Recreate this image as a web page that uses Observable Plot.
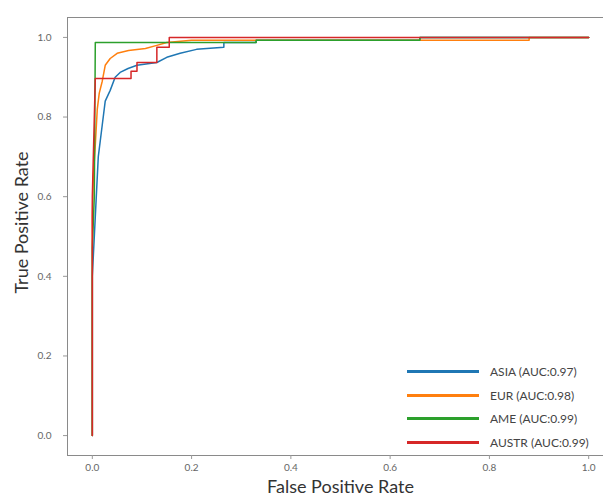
<!DOCTYPE html>
<html><head><meta charset="utf-8">
<script src="https://cdn.jsdelivr.net/npm/d3@7"></script>
<script src="https://cdn.jsdelivr.net/npm/@observablehq/plot@0.6"></script>
<style>
html,body{margin:0;padding:0;background:#fff;overflow:hidden;}
#wrap{position:relative;width:603px;height:497px;}
#legend{position:absolute;left:407px;top:360px;font-family:Lato,"Open Sans",sans-serif;font-size:12px;color:#444;}
.row{display:flex;align-items:center;height:23.5px;}
.sw{width:72px;height:3px;margin-right:11px;}
</style>
</head><body>
<div id="wrap"></div>
<script>
const regions = ["ASIA", "EUR", "AME", "AUSTR"];
const aucs = ["0.97", "0.98", "0.99", "0.99"];
const colors = ["#1f77b4", "#ff7f0e", "#2ca02c", "#d62728"];
const xTicks = [0, 0.2, 0.4, 0.6, 0.8, 1.0];
const yTicks = [0, 0.2, 0.4, 0.6, 0.8, 1.0];

const asiaFpr = [0, 0, 0.006, 0.012, 0.02, 0.026, 0.036, 0.046, 0.056, 0.072, 0.09, 0.13, 0.15, 0.177, 0.21, 0.265, 0.265, 0.33, 0.33, 0.66, 0.66, 1];
const asiaTpr = [0, 0.4, 0.55, 0.7, 0.78, 0.84, 0.867, 0.9, 0.912, 0.922, 0.93, 0.937, 0.95, 0.96, 0.97, 0.975, 0.987, 0.987, 0.993, 0.993, 1, 1];
const eurFpr = [0, 0, 0.002, 0.006, 0.01, 0.014, 0.02, 0.026, 0.036, 0.05, 0.073, 0.107, 0.13, 0.15, 0.2, 0.88, 0.88, 1];
const eurTpr = [0, 0.55, 0.65, 0.73, 0.82, 0.86, 0.89, 0.93, 0.947, 0.96, 0.967, 0.972, 0.98, 0.987, 0.993, 0.993, 1, 1];
const ameFpr = [0, 0, 0.004, 0.006, 0.33, 0.33, 0.66, 0.66, 1];
const ameTpr = [0, 0.47, 0.6, 0.987, 0.987, 0.993, 0.993, 1, 1];
const austrFpr = [0, 0, 0.006, 0.078, 0.078, 0.09, 0.09, 0.13, 0.13, 0.155, 0.155, 1];
const austrTpr = [0, 0.6, 0.897, 0.897, 0.915, 0.915, 0.937, 0.937, 0.975, 0.975, 1, 1];

const series = [[asiaFpr, asiaTpr], [eurFpr, eurTpr], [ameFpr, ameTpr], [austrFpr, austrTpr]];
const rows = [];
series.forEach(([f, t], i) => f.forEach((v, j) => rows.push({region: regions[i], fpr: v, tpr: t[j]})));

const font = "Lato, 'Open Sans', sans-serif";
const chart = Plot.plot({
  width: 603, height: 497,
  marginLeft: 67, marginRight: -10, marginTop: 17, marginBottom: 42,
  style: {fontFamily: font, background: "#fff", overflow: "hidden"},
  x: {domain: [-0.05, 1.05]},
  y: {domain: [-0.05, 1.05]},
  color: {domain: regions, range: colors},
  marks: [
    Plot.frame({stroke: "#8a8a8a", strokeWidth: 1}),
    Plot.axisX({ticks: xTicks, tickFormat: d3.format(".1f"), tickSize: 4, tickPadding: 4, fontSize: 10, color: "#666", stroke: "#999", label: null}),
    Plot.axisY({ticks: yTicks, tickFormat: d3.format(".1f"), tickSize: 4, tickPadding: 12, fontSize: 10, color: "#666", stroke: "#999", label: null}),
    Plot.line(rows, {x: "fpr", y: "tpr", z: "region", stroke: "region", strokeWidth: 1.5, curve: "linear"}),
    Plot.text(["False Positive Rate"], {frameAnchor: "bottom", dy: 37, fontSize: 18, fill: "#333", fontFamily: font}),
    Plot.text(["True Positive Rate"], {frameAnchor: "left", textAnchor: "middle", dx: -45, dy: -14, rotate: -90, fontSize: 18, fill: "#333", fontFamily: font})
  ]
});
const wrap = document.getElementById("wrap");
wrap.appendChild(chart);
const leg = document.createElement("div");
leg.id = "legend";
regions.forEach((r, i) => {
  const row = document.createElement("div");
  row.className = "row";
  const sw = document.createElement("div");
  sw.className = "sw";
  sw.style.background = colors[i];
  const tx = document.createElement("span");
  tx.textContent = `${r} (AUC:${aucs[i]})`;
  row.appendChild(sw); row.appendChild(tx);
  leg.appendChild(row);
});
wrap.appendChild(leg);
</script>
</body></html>
